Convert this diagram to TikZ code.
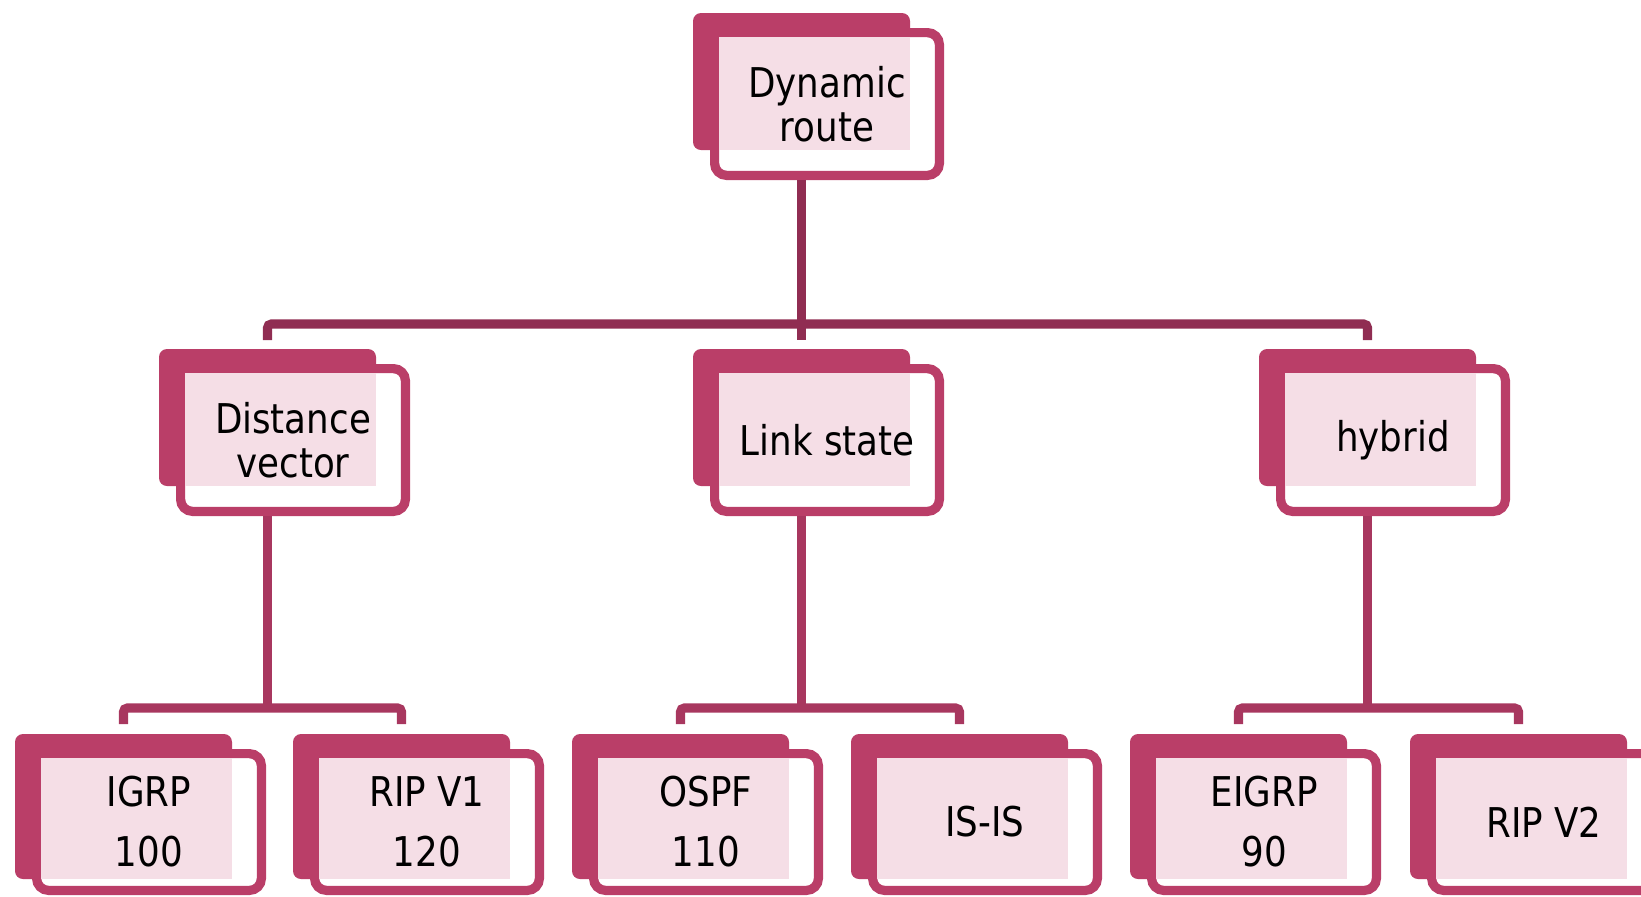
\documentclass[tikz,border=0pt]{standalone}
\usepackage{fontspec}
\setmainfont{DejaVu Sans}[FakeStretch=0.87]
\usetikzlibrary{positioning}
\definecolor{boxpink}{RGB}{186,62,104}
\definecolor{trunkpink}{RGB}{144,45,82}
\definecolor{branchpink}{RGB}{168,55,95}
\definecolor{shadepink}{RGB}{245,222,230}
\tikzstyle{backbox}=[rectangle, fill=boxpink, rounded corners=4pt, inner sep=0pt, outer sep=0pt, anchor=north west, minimum width=108.5pt, minimum height=68.5pt]
\tikzstyle{frontbox}=[rectangle, draw=boxpink, fill=white, line width=4.6pt, rounded corners=6pt, inner sep=0pt, anchor=north west, minimum width=112.4pt, minimum height=71.4pt]
\tikzstyle{overlap}=[fill=shadepink]
\tikzstyle{boxtext}=[align=center, inner sep=0pt, font=\fontsize{20.5}{22}\selectfont]
\tikzstyle{leaftext}=[align=center, inner sep=0pt, font=\fontsize{20.5}{30}\selectfont]
\tikzstyle{trunk}=[draw=trunkpink, line width=4.6pt]
\tikzstyle{branch}=[draw=branchpink, line width=4.6pt]

\begin{document}
\begin{tikzpicture}[x=0.5pt, y=-0.5pt]
            \useasboundingbox (0,0) rectangle (1641,896);

            % back plates
            \begin{scope}[every node/.style={backbox}]
                \node (top-b) at (693,13) {};
                \node (dv-b) at (159,349) {};
                \node (ls-b) at (693,349) {};
                \node (hy-b) at (1259,349) {};
            \end{scope}
            \begin{scope}[every node/.style={backbox, minimum height=72.5pt}]
                \node (igrp-b) at (15,734) {};
                \node (rip1-b) at (293,734) {};
                \node (ospf-b) at (572,734) {};
                \node (isis-b) at (851,734) {};
                \node (eigrp-b) at (1130,734) {};
                \node (rip2-b) at (1410,734) {};
            \end{scope}

            % front frames
            \begin{scope}[every node/.style={frontbox}]
                \node (top-f) at ([shift={(17,15)}]top-b.north west) {};
                \node (dv-f) at ([shift={(17,15)}]dv-b.north west) {};
                \node (ls-f) at ([shift={(17,15)}]ls-b.north west) {};
                \node (hy-f) at ([shift={(17,15)}]hy-b.north west) {};
            \end{scope}
            \begin{scope}[every node/.style={frontbox, minimum height=68.4pt}]
                \node (igrp-f) at ([shift={(17,15)}]igrp-b.north west) {};
                \node (rip1-f) at ([shift={(17,15)}]rip1-b.north west) {};
                \node (ospf-f) at ([shift={(17,15)}]ospf-b.north west) {};
                \node (isis-f) at ([shift={(17,15)}]isis-b.north west) {};
                \node (eigrp-f) at ([shift={(17,15)}]eigrp-b.north west) {};
                \node (rip2-f) at ([shift={(17,15)}]rip2-b.north west) {};
            \end{scope}

            % shaded part where plate and frame meet
            \foreach \b in {top,dv,ls,hy,igrp,rip1,ospf,isis,eigrp,rip2}
                \fill[overlap] ([shift={(4.6pt,-4.6pt)}]\b-f.north west) rectangle (\b-b.south east);

            % labels
            \begin{scope}[every node/.style={boxtext}]
                \node (top) at (top-f.center) {Dynamic\\route};
                \node (dv) at (dv-f.center) {Distance\\vector};
                \node (ls) at (ls-f.center) {Link state};
                \node (hy) at (hy-f.center) {hybrid};
            \end{scope}
            \begin{scope}[every node/.style={leaftext}]
                \node (igrp) at (igrp-f.center) {IGRP\\100};
                \node (rip1) at (rip1-f.center) {RIP V1\\120};
                \node (ospf) at (ospf-f.center) {OSPF\\110};
                \node (isis) at (isis-f.center) {IS-IS};
                \node (eigrp) at (eigrp-f.center) {EIGRP\\90};
                \node (rip2) at (rip2-f.center) {RIP V2};
            \end{scope}

            % connectors
            \coordinate (top-j) at (top-b |- 0,324);
            \coordinate (dv-j) at (dv-b |- 0,708);
            \coordinate (ls-j) at (ls-b |- 0,708);
            \coordinate (hy-j) at (hy-b |- 0,708);

            \path[trunk] (top-b |- top-f.south) -- (top-j);
            \path[trunk, rounded corners=2pt] ([yshift=4.5pt]dv-b.north) |- (top-j) -| ([yshift=4.5pt]hy-b.north);
            \path[trunk] (top-j) -- ([yshift=4.5pt]ls-b.north);

            \begin{scope}[every path/.style={branch}]
                \path (dv-b |- dv-f.south) -- (dv-j);
                \path (ls-b |- ls-f.south) -- (ls-j);
                \path (hy-b |- hy-f.south) -- (hy-j);
            \end{scope}
            \begin{scope}[every path/.style={branch, rounded corners=2pt}]
                \path ([yshift=5pt]igrp-b.north) |- (dv-j) -| ([yshift=5pt]rip1-b.north);
                \path ([yshift=5pt]ospf-b.north) |- (ls-j) -| ([yshift=5pt]isis-b.north);
                \path ([yshift=5pt]eigrp-b.north) |- (hy-j) -| ([yshift=5pt]rip2-b.north);
            \end{scope}
        \end{tikzpicture}
\end{document}
